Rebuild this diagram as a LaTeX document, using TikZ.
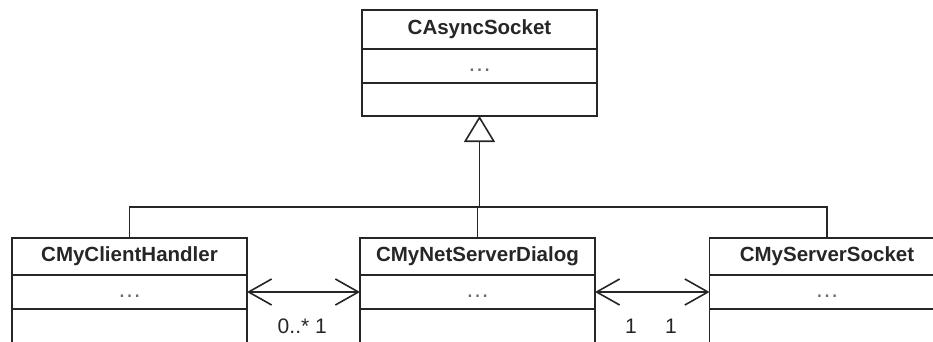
\documentclass[tikz,border=0pt]{standalone}
\usepackage{fontspec}
\setmainfont{Liberation Sans}
\usetikzlibrary{arrows.meta,positioning}
\definecolor{umlink}{HTML}{262626}
\definecolor{umlmuted}{HTML}{6A6A6A}

\begin{document}
\begin{tikzpicture}[
  x=1pt,
  y=-1pt,
  every node/.style={umlink, inner sep=0pt, outer sep=0pt},
  classhead/.style={draw=umlink, line width=1.8pt, minimum width=235pt,
    font=\fontsize{20.5}{24}\selectfont\bfseries},
  compart/.style={draw=umlink, line width=1.8pt, minimum width=235pt,
    minimum height=34pt, text height=11pt, text=umlmuted,
    font=\fontsize{24}{24}\selectfont},
  mult/.style={anchor=base, font=\fontsize{21}{24}\selectfont},
  inherit/.style={umlink, line width=1.6pt,
    -{Triangle[open, length=26pt, width=31pt, line width=1.6pt]}},
  tree/.style={umlink, line width=1.6pt},
  assoc/.style={umlink, line width=1.6pt,
    {Straight Barb[length=23pt, width=26pt]}-{Straight Barb[length=23pt, width=26pt]}}
]
  \useasboundingbox (0,0) rectangle (933,342);

  % ---- base class ----
  \node[classhead, minimum height=39pt] (sock) at (479.5,29.5) {CAsyncSocket};
  \node[compart, below=0pt of sock] (sock-attr) {\ldots};
  \node[compart, below=0pt of sock-attr, minimum height=33pt] (sock-op) {};

  % ---- derived classes ----
  \node[classhead, minimum height=37pt] (cli) at (129.5,256.5) {CMyClientHandler};
  \node[compart, below=0pt of cli] (cli-attr) {\ldots};
  \node[compart, below=0pt of cli-attr] (cli-op) {};

  \node[classhead, minimum height=37pt] (dlg) at (477.5,256.5) {CMyNetServerDialog};
  \node[compart, below=0pt of dlg] (dlg-attr) {\ldots};
  \node[compart, below=0pt of dlg-attr] (dlg-op) {};

  \node[classhead, minimum height=37pt] (srv) at (827,256.5) {CMyServerSocket};
  \node[compart, below=0pt of srv] (srv-attr) {\ldots};
  \node[compart, below=0pt of srv-attr] (srv-op) {};

  % ---- generalization ----
  \coordinate (bar) at (0,207);
  \draw[tree] (cli.north) |- (bar -| srv.north) -- (srv.north);
  \draw[tree] (dlg.north) -- (dlg.north |- bar);
  \draw[inherit] (sock-op.south |- bar) -- (sock-op.south);

  % ---- associations ----
  \draw[assoc] (cli-attr.east) -- (dlg-attr.west);
  \draw[assoc] (dlg-attr.east) -- (srv-attr.west);

  % ---- multiplicities ----
  \node[mult] (m-cli) at (293.5,333) {0..*};
  \node[mult] (m-dlg-l) at (321,333) {1};
  \node[mult] (m-dlg-r) at (631,333) {1};
  \node[mult] (m-srv) at (671,333) {1};
\end{tikzpicture}
\end{document}
